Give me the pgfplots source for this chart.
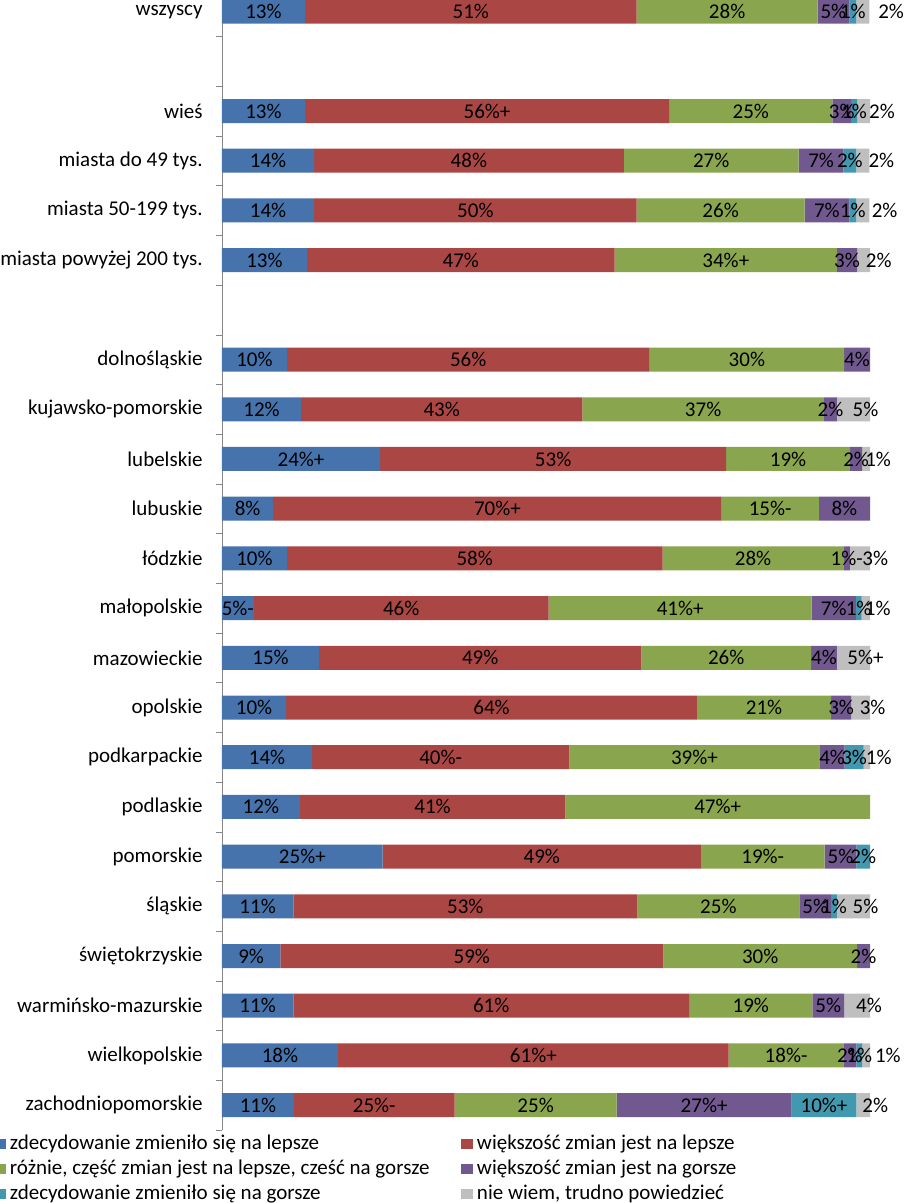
\documentclass[border=0pt]{standalone}
\usepackage{fontspec}
\setmainfont{Carlito}
\usepackage{pgfplots}
\usepackage{pgfplotstable}
\pgfplotsset{compat=1.18}

\definecolor{c1}{HTML}{4673AB}
\definecolor{c2}{HTML}{AA4644}
\definecolor{c3}{HTML}{89A54E}
\definecolor{c4}{HTML}{71588F}
\definecolor{c5}{HTML}{4198AF}
\definecolor{c6}{HTML}{BFBFBF}
\definecolor{axgray}{HTML}{868686}

% y = row (22 = top), a..f = segment widths in %, la..lf = printed labels,
% g = extra offset (in %) of the last label
\pgfplotstableread{
y  a    b    c    d    e    f    la      lb      lc      ld      le      lf     g
22 12.8 51.2 27.9 4.9  1.1  2.0  13\%    51\%    28\%    5\%     1\%     2\%    2.5
20 12.8 56.2 25.2 2.9  0.9  2.0  13\%    56\%+   25\%    3\%     1\%     2\%    1
19 14.2 47.8 27.0 6.9  2.0  2.0  14\%    48\%    27\%    7\%     2\%     2\%    1
18 14.2 49.8 25.9 6.9  1.1  2.0  14\%    50\%    26\%    7\%     1\%     2\%    1.5
17 13.1 47.5 34.3 3.1  0.0  2.0  13\%    47\%    34\%+   3\%     {}      2\%    0.5
15 10.0 56.0 30.0 4.0  0.0  0.0  10\%    56\%    30\%    4\%     {}      {}     0
14 12.2 43.4 37.3 2.0  0.0  5.1  12\%    43\%    37\%    2\%     {}      5\%    0
13 24.4 53.4 19.1 1.9  0.0  1.2  24\%+   53\%    19\%    2\%     {}      1\%    0
12 7.9  69.2 15.0 7.9  0.0  0.0  8\%     70\%+   15\%-   8\%     {}      {}     0
11 10.0 58.0 27.9 1.0  0.0  3.1  10\%    58\%    28\%    1\%-    {}      3\%    0.5
10 4.9  45.5 40.6 6.8  0.9  1.3  5\%-    46\%    41\%+   7\%     1\%     1\%    0
9  15.0 49.7 26.2 4.0  0.0  5.1  15\%    49\%    26\%    4\%     {}      5\%+   0
8  9.9  63.4 20.7 3.1  0.0  2.9  10\%    64\%    21\%    3\%     {}      3\%    0
7  13.9 39.7 38.6 3.9  2.9  1.0  14\%    40\%-   39\%+   4\%     3\%     1\%    0
6  12.0 41.0 47.0 0.0  0.0  0.0  12\%    41\%    47\%+   {}      {}      {}     0
5  24.8 49.1 19.1 4.9  2.1  0.0  25\%+   49\%    19\%-   5\%     2\%     {}     0
4  11.0 53.1 25.0 4.9  0.9  5.1  11\%    53\%    25\%    5\%     1\%     5\%    0
3  9.0  59.1 29.9 2.0  0.0  0.0  9\%     59\%    30\%    2\%     {}      {}     0
2  11.0 61.1 19.0 4.9  0.0  4.0  11\%    61\%    19\%    5\%     {}      4\%    0
1  17.9 60.3 17.7 2.0  0.9  1.2  18\%    61\%+   18\%-   2\%     1\%     1\%    1.5
0  11.1 24.8 25.0 27.0 10.0 2.1  11\%    25\%-   25\%    27\%+   10\%+   2\%    0
}\data

\begin{document}
\fontsize{10.5}{12}\selectfont
\begin{tikzpicture}[font=\fontsize{10.5}{12}\selectfont]
\useasboundingbox (-111pt,-36.5pt) rectangle (341.5pt,565pt);
\pgfplotsset{common/.style={scale only axis, width=324pt, height=571.6pt,
  xmin=0, xmax=100, ymin=-0.5, ymax=22.5, clip=false}}

\begin{axis}[common,
  xbar stacked, bar width=12pt,
  axis x line=none, axis y line*=left,
  axis line style={axgray},
  ytick={0,...,22},
  yticklabels={zachodniopomorskie, wielkopolskie, warmińsko-mazurskie,
    świętokrzyskie, śląskie, pomorskie, podlaskie, podkarpackie, opolskie,
    mazowieckie, małopolskie, łódzkie, lubuskie, lubelskie,
    kujawsko-pomorskie, dolnośląskie, {}, miasta powyżej 200 tys.,
    miasta 50-199 tys., miasta do 49 tys., wieś, {}, wszyscy},
  major tick length=0pt,
  minor ytick={-0.5,0.5,...,22.5},
  minor tick length=3pt,
  tick align=outside,
  tick style={axgray},
  y tick label style={xshift=-6pt, font=\fontsize{10.5}{12}\selectfont},
  legend image code/.code={\fill[#1] (0pt,-2.5pt) rectangle (6pt,2.5pt);
    \path (8pt,0pt);},
  legend columns=2,
  legend cell align=left,
  legend style={at={(0,0)}, anchor=north west, xshift=-114pt, yshift=-2pt,
    draw=none, fill=none, inner sep=0pt, outer sep=0pt,
    row sep=2.5pt, column sep=0pt,
    font=\fontsize{10.5}{12}\selectfont,
    nodes={inner sep=0pt, text height=7.5pt, text depth=2.5pt}},
]
\addplot[fill=c1, draw=none] table[x=a, y=y]{\data};
\addlegendentry{\makebox[225.5pt][l]{zdecydowanie zmieniło się na lepsze}}
\addplot[fill=c2, draw=none] table[x=b, y=y]{\data};
\addlegendentry{większość zmian jest na lepsze}
\addplot[fill=c3, draw=none] table[x=c, y=y]{\data};
\addlegendentry{\makebox[225.5pt][l]{różnie, część zmian jest na lepsze, cześć na gorsze}}
\addplot[fill=c4, draw=none] table[x=d, y=y]{\data};
\addlegendentry{większość zmian jest na gorsze}
\addplot[fill=c5, draw=none] table[x=e, y=y]{\data};
\addlegendentry{\makebox[225.5pt][l]{zdecydowanie zmieniło się na gorsze}}
\addplot[fill=c6, draw=none] table[x=f, y=y]{\data};
\addlegendentry{nie wiem, trudno powiedzieć}
\end{axis}

% labels, centred on each segment
\begin{axis}[common, hide axis,
  point meta=explicit symbolic,
  nodes near coords,
  every node near coord/.append style={anchor=center, inner sep=0pt,
    text=black, font=\fontsize{10.5}{12}\selectfont},
  every axis plot/.append style={only marks, mark=*, mark size=0pt,
    mark options={draw=none, fill=none}},
]
\addplot table[x expr=\thisrow{a}/2, y=y, meta=la]{\data};
\addplot table[x expr=\thisrow{a}+\thisrow{b}/2, y=y, meta=lb]{\data};
\addplot table[x expr=\thisrow{a}+\thisrow{b}+\thisrow{c}/2, y=y, meta=lc]{\data};
\addplot table[x expr=\thisrow{a}+\thisrow{b}+\thisrow{c}+\thisrow{d}/2, y=y, meta=ld]{\data};
\addplot table[x expr=\thisrow{a}+\thisrow{b}+\thisrow{c}+\thisrow{d}+\thisrow{e}/2, y=y, meta=le]{\data};
\addplot[every node near coord/.append style={xshift=6pt}]
  table[x expr=\thisrow{a}+\thisrow{b}+\thisrow{c}+\thisrow{d}+\thisrow{e}+\thisrow{f}/2+\thisrow{g}, y=y, meta=lf]{\data};
\end{axis}
\end{tikzpicture}
\end{document}
